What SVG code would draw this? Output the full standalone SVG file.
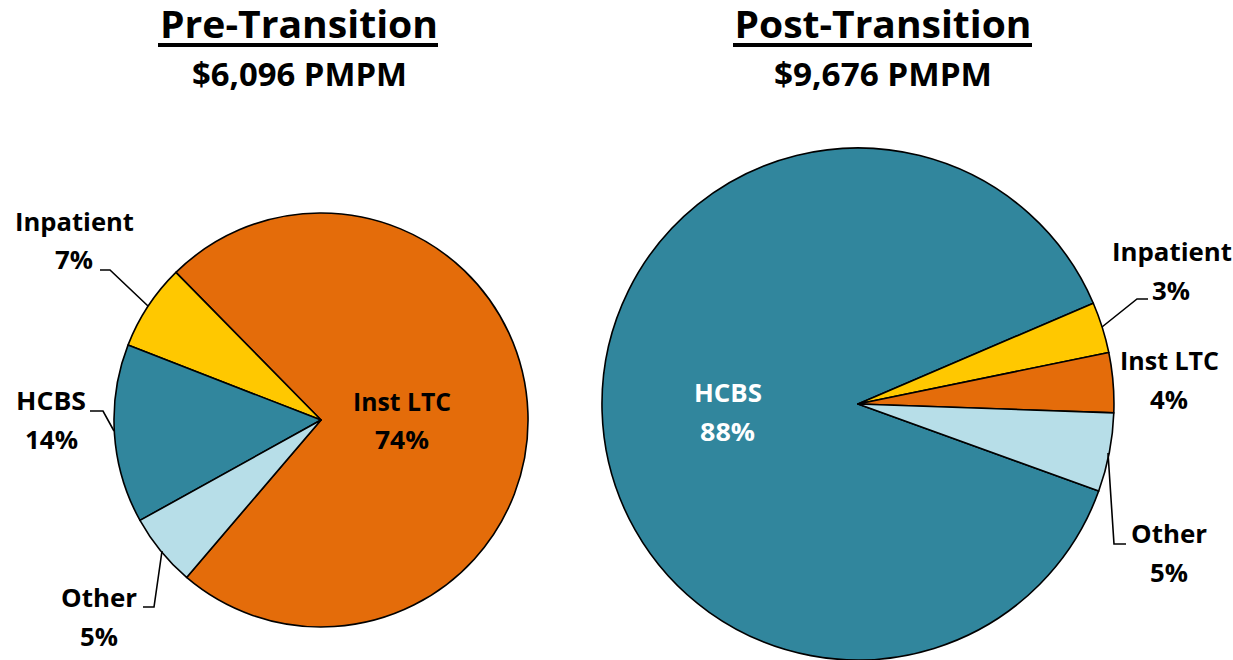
<svg xmlns="http://www.w3.org/2000/svg" width="1233" height="660" viewBox="0 0 1233 660">
  <style>
    text { font-family: "Open Sans", "Lato", "Liberation Sans", sans-serif; font-weight: bold; fill: #000; text-anchor: middle; }
    .title { font-size: 37px; }
    .sub { font-size: 32px; }
    .lbl { font-size: 25px; }
    .white { fill: #fff; }
    .slice { stroke: #000; stroke-width: 1.6; stroke-linejoin: round; }
    .leader { fill: none; stroke: #000; stroke-width: 1.6; }
    .orange { fill: #E46C0A; }
    .yellow { fill: #FFC800; }
    .teal { fill: #31869D; }
    .light { fill: #B7DEE8; }
  </style>

  <rect width="1233" height="660" fill="#fff"/>

  <!-- Headings -->
  <g id="pre-title">
    <text class="title" x="299" y="38" textLength="278" lengthAdjust="spacingAndGlyphs">Pre-Transition</text>
    <rect x="158" y="43" width="280" height="4" fill="#000"/>
    <text class="sub" x="299.5" y="86" textLength="215" lengthAdjust="spacingAndGlyphs">$6,096 PMPM</text>
  </g>
  <g id="post-title">
    <text class="title" x="883" y="38" textLength="297" lengthAdjust="spacingAndGlyphs">Post-Transition</text>
    <rect x="733" y="43" width="299" height="4" fill="#000"/>
    <text class="sub" x="883" y="86" textLength="218" lengthAdjust="spacingAndGlyphs">$9,676 PMPM</text>
  </g>

  <!-- Pre-transition pie, centre (321,420), r 207 -->
  <g id="pre-inst-ltc">
    <path class="slice orange" d="M321,420 L186.6,577.4 A207,207 0 1 0 175.9,272.4 Z"/>
    <text class="lbl" x="402" y="411" textLength="98" lengthAdjust="spacingAndGlyphs">Inst LTC</text>
    <text class="lbl" x="402" y="449" textLength="54" lengthAdjust="spacingAndGlyphs">74%</text>
  </g>
  <g id="pre-inpatient">
    <path class="slice yellow" d="M321,420 L175.9,272.4 A207,207 0 0 0 128,345.1 Z"/>
    <text class="lbl" x="74.5" y="231" textLength="119" lengthAdjust="spacingAndGlyphs">Inpatient</text>
    <text class="lbl" x="74" y="269" textLength="38" lengthAdjust="spacingAndGlyphs">7%</text>
  </g>
  <g id="pre-hcbs">
    <path class="slice teal" d="M321,420 L128,345.1 A207,207 0 0 0 140,520.4 Z"/>
    <text class="lbl" x="51" y="410" textLength="70" lengthAdjust="spacingAndGlyphs">HCBS</text>
    <text class="lbl" x="51.5" y="449" textLength="53" lengthAdjust="spacingAndGlyphs">14%</text>
  </g>
  <g id="pre-other">
    <path class="slice light" d="M321,420 L140,520.4 A207,207 0 0 0 186.6,577.4 Z"/>
    <text class="lbl" x="99" y="607" textLength="76" lengthAdjust="spacingAndGlyphs">Other</text>
    <text class="lbl" x="99" y="646" textLength="38" lengthAdjust="spacingAndGlyphs">5%</text>
  </g>

  <!-- Post-transition pie, centre (858,404), r 256 -->
  <g id="post-hcbs">
    <path class="slice teal" d="M858,404 L1093.3,303.2 A256,256 0 1 0 1098.7,491.1 Z"/>
    <text class="lbl white" x="728" y="402" textLength="68" lengthAdjust="spacingAndGlyphs">HCBS</text>
    <text class="lbl white" x="727.5" y="441" textLength="55" lengthAdjust="spacingAndGlyphs">88%</text>
  </g>
  <g id="post-inpatient">
    <path class="slice yellow" d="M858,404 L1108.8,352.5 A256,256 0 0 0 1093.3,303.2 Z"/>
    <text class="lbl" x="1172" y="261" textLength="120" lengthAdjust="spacingAndGlyphs">Inpatient</text>
    <text class="lbl" x="1171" y="300" textLength="38" lengthAdjust="spacingAndGlyphs">3%</text>
  </g>
  <g id="post-inst-ltc">
    <path class="slice orange" d="M858,404 L1113.8,412.9 A256,256 0 0 0 1108.8,352.5 Z"/>
    <text class="lbl" x="1169.5" y="370" textLength="99" lengthAdjust="spacingAndGlyphs">Inst LTC</text>
    <text class="lbl" x="1169" y="409" textLength="38" lengthAdjust="spacingAndGlyphs">4%</text>
  </g>
  <g id="post-other">
    <path class="slice light" d="M858,404 L1098.7,491.1 A256,256 0 0 0 1113.8,412.9 Z"/>
    <text class="lbl" x="1169" y="543" textLength="76" lengthAdjust="spacingAndGlyphs">Other</text>
    <text class="lbl" x="1169" y="582" textLength="38" lengthAdjust="spacingAndGlyphs">5%</text>
  </g>

  <!-- Leader lines -->
  <g id="connectors">
    <polyline class="leader" points="148,306 110,270 100,270"/>
    <polyline class="leader" points="90,411 103,411 114,431"/>
    <polyline class="leader" points="162,551 154,607 143,607"/>
    <polyline class="leader" points="1102,327 1137,299 1148,299"/>
    <polyline class="leader" points="1108,453 1114,544 1126,544"/>
  </g>
</svg>
